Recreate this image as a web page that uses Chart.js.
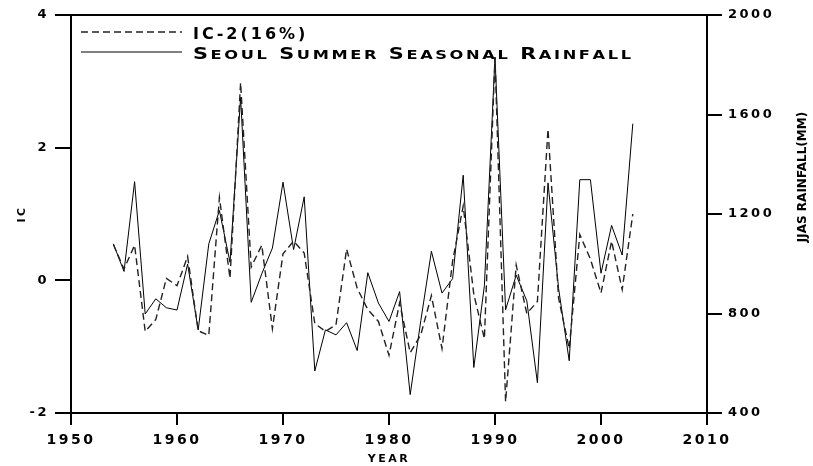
<!DOCTYPE html>
<html>
<head>
<meta charset="utf-8">
<script src="https://cdn.jsdelivr.net/npm/chart.js@4/dist/chart.umd.min.js"></script>
<style>
  body { margin: 0; background: #fff; }
</style>
</head>
<body>
<canvas id="chart" width="813" height="466"></canvas>
<script>
'use strict';
// data
let years = [1954, 1955, 1956, 1957, 1958, 1959, 1960, 1961, 1962, 1963,
  1964, 1965, 1966, 1967, 1968, 1969, 1970, 1971, 1972, 1973,
  1974, 1975, 1976, 1977, 1978, 1979, 1980, 1981, 1982, 1983,
  1984, 1985, 1986, 1987, 1988, 1989, 1990, 1991, 1992, 1993,
  1994, 1995, 1996, 1997, 1998, 1999, 2000, 2001, 2002, 2003]

// IC-2 principal component (left axis)
let icValues = [0.54, 0.17, 0.53, -0.77, -0.59, 0.03, -0.08, 0.36, -0.76, -0.83,
  1.25, 0.03, 2.98, 0.20, 0.53, -0.73, 0.40, 0.59, 0.41, -0.65,
  -0.77, -0.67, 0.47, -0.12, -0.44, -0.62, -1.13, -0.34, -1.09, -0.82,
  -0.23, -1.03, 0.29, 1.12, -0.21, -0.88, 3.36, -1.83, 0.23, -0.50,
  -0.32, 2.28, -0.27, -1.03, 0.69, 0.32, -0.19, 0.59, -0.14, 1.00]

// Seoul JJAS rainfall in mm (right axis)
let rainValues = [1080, 969, 1330, 798, 859, 823, 814, 999, 734, 1080,
  1214, 1006, 1669, 845, 960, 1063, 1328, 1057, 1269, 569,
  734, 714, 763, 651, 964, 842, 768, 888, 474, 771,
  1050, 882, 940, 1356, 583, 912, 1831, 815, 954, 851,
  522, 1325, 900, 610, 1338, 1338, 962, 1154, 1035, 1563]

let seriesNames = ['IC-2(16%)', 'Seoul Summer Seasonal Rainfall']
let xTicks = [1950, 1960, 1970, 1980, 1990, 2000, 2010]
let icTicks = [-2, 0, 2, 4]
let rainTicks = [400, 800, 1200, 1600, 2000]
let rightTitle = 'JJAS RAINFALL(MM)'

const FONT = "'DejaVu Sans', sans-serif"

// uppercase letters big, lowercase letters as small capitals
function drawSmallCaps(ctx, text, x, y, big, small, spacing, stretch) {
  ctx.save()
  ctx.translate(x, y)
  ctx.scale(stretch, 1)
  ctx.letterSpacing = spacing + 'px'
  ctx.fillStyle = '#000'
  ctx.textAlign = 'left'
  ctx.textBaseline = 'alphabetic'
  let cx = 0
  for (let ch of text) {
    let isSmall = ch !== ch.toUpperCase()
    ctx.font = 'bold ' + (isSmall ? small : big) + 'px ' + FONT
    let c = ch.toUpperCase()
    ctx.fillText(c, cx, 0)
    cx += ctx.measureText(c).width
  }
  ctx.restore()
}

const figurePlugin = {
  id: 'figurePlugin',
  beforeDraw(chart) {
    chart.ctx.letterSpacing = '2.5px'
  },
  afterDraw(chart) {
    const ctx = chart.ctx
    const area = chart.chartArea

    // top frame line
    ctx.save()
    ctx.strokeStyle = '#000'
    ctx.lineWidth = 2
    ctx.beginPath()
    ctx.moveTo(area.left, area.top)
    ctx.lineTo(area.right, area.top)
    ctx.stroke()
    ctx.restore()

    // legend in the upper left corner
    chart.data.datasets.forEach((ds, i) => {
      let y = area.top + 17 + i * 20
      ctx.save()
      ctx.strokeStyle = ds.borderColor
      ctx.lineWidth = ds.borderWidth
      ctx.setLineDash(ds.borderDash || [])
      ctx.beginPath()
      ctx.moveTo(area.left + 10, y)
      ctx.lineTo(area.left + 111, y)
      ctx.stroke()
      ctx.restore()
      drawSmallCaps(ctx, ds.label, area.left + 122, y + 7, 16, 12.5, ds.legendSpacing, ds.legendStretch)
    })

    // right axis title, reading upwards
    ctx.save()
    ctx.translate(803, 177)
    ctx.rotate(-Math.PI / 2)
    ctx.letterSpacing = '0px'
    ctx.font = 'bold 12px ' + FONT
    ctx.fillStyle = '#000'
    ctx.textAlign = 'center'
    ctx.textBaseline = 'middle'
    ctx.fillText(rightTitle, 0, 0)
    ctx.restore()
  }
}

let icPoints = []
let rainPoints = []
for (let i = 0; i < years.length; i++) {
  icPoints.push({ x: years[i], y: icValues[i] })
  rainPoints.push({ x: years[i], y: rainValues[i] })
}

const tickFont = { family: FONT, size: 13, weight: 'bold' }

const myChart = new Chart(document.getElementById('chart').getContext('2d'), {
  type: 'line',
  data: {
    datasets: [{
      label: seriesNames[0],
      data: icPoints,
      yAxisID: 'y',
      borderColor: '#222',
      borderWidth: 1.4,
      borderDash: [7, 4],
      pointRadius: 0,
      tension: 0,
      legendSpacing: 3,
      legendStretch: 1
    },
    {
      label: seriesNames[1],
      data: rainPoints,
      yAxisID: 'y1',
      borderColor: '#000',
      borderWidth: 1,
      pointRadius: 0,
      tension: 0,
      legendSpacing: 2,
      legendStretch: 1.3
    }]
  },
  options: {
    responsive: false,
    devicePixelRatio: 1,
    animation: false,
    layout: { padding: { top: 15, left: 0, right: 0, bottom: 0 } },
    plugins: {
      legend: { display: false },
      tooltip: { enabled: false }
    },
    scales: {
      x: {
        type: 'linear',
        min: xTicks[0],
        max: xTicks[xTicks.length - 1],
        afterBuildTicks: (scale) => { scale.ticks = xTicks.map(v => ({ value: v })) },
        afterFit: (scale) => { scale.height = 53 },
        ticks: { color: '#000', font: { family: FONT, size: 14, weight: 'bold' }, padding: 7, callback: (v) => String(v) },
        grid: { drawOnChartArea: false, tickLength: 12, color: '#000', lineWidth: 2 },
        border: { color: '#000', width: 2 },
        title: { display: true, text: 'YEAR', color: '#000', font: { family: FONT, size: 11, weight: 'bold' }, padding: { top: 0, bottom: 0 } }
      },
      y: {
        position: 'left',
        min: icTicks[0],
        max: icTicks[icTicks.length - 1],
        afterBuildTicks: (scale) => { scale.ticks = icTicks.map(v => ({ value: v })) },
        afterFit: (scale) => { scale.width = 71 },
        ticks: { color: '#000', font: tickFont, padding: 6, callback: (v) => String(v) },
        grid: { drawOnChartArea: false, tickLength: 16, color: '#000', lineWidth: 2 },
        border: { color: '#000', width: 2 },
        title: { display: true, text: 'IC', color: '#000', font: { family: FONT, size: 11, weight: 'bold' }, padding: { top: 16, bottom: 0 } }
      },
      y1: {
        position: 'right',
        min: rainTicks[0],
        max: rainTicks[rainTicks.length - 1],
        afterBuildTicks: (scale) => { scale.ticks = rainTicks.map(v => ({ value: v })) },
        afterFit: (scale) => { scale.width = 106 },
        ticks: { color: '#000', font: tickFont, padding: 6, callback: (v) => String(v) },
        grid: { drawOnChartArea: false, tickLength: 15, color: '#000', lineWidth: 2 },
        border: { color: '#000', width: 2 }
      }
    }
  },
  plugins: [figurePlugin]
})
</script>
</body>
</html>
